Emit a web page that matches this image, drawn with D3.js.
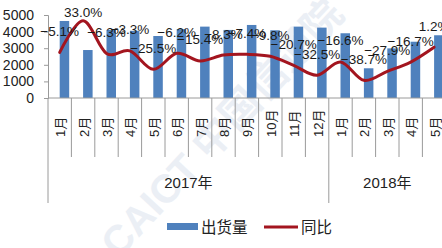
<!DOCTYPE html>
<html>
<head>
<meta charset="utf-8">
<script src="https://cdn.jsdelivr.net/npm/d3@7"></script>
<style>
  body { margin: 0; background: #fff; }
  svg { display: block; font-family: "Liberation Sans", Arial, "Noto Sans CJK SC", sans-serif; }
</style>
</head>
<body>
<div id="chart"></div>
<script>
// months and year groups
const months = ['1月','2月','3月','4月','5月','6月','7月','8月','9月','10月','11月','12月','1月','2月','3月','4月','5月'];
const years = [{name: '2017年', n: 12}, {name: '2018年', n: 5}];
// 出货量 (shipments) and 同比 (yoy %)
const shipments = [4640, 2890, 4100, 4050, 3735, 4150, 4300, 4100, 4400, 4080, 4300, 4240, 3900, 1790, 2990, 3390, 3780];
const yoy = [-5.1, 33.0, -6.3, -3.3, -25.5, -6.2, -15.4, -8.3, -7.4, -9.8, -20.7, -32.5, -16.6, -38.7, -27.9, -16.7, 1.2];
const yTicks = [0, 1000, 2000, 3000, 4000, 5000];

const w = 442, h = 248;
const plotLeft = 48, step = 23.4, plotTop = 15, base = 98;

var svg = d3.select('#chart').append('svg').attr('width', w).attr('height', h);

// faint watermark
svg.append('text')
   .attr('transform', 'translate(222,128) rotate(-47)')
   .attr('text-anchor', 'middle')
   .attr('dominant-baseline', 'central')
   .style('font-size', '40px')
   .style('font-weight', 'bold')
   .style('fill', '#dbe3ee')
   .style('opacity', 0.55)
   .text('CAICT 中国信通院');

var x = d3.scaleBand().domain(d3.range(months.length)).range([plotLeft, plotLeft + step * months.length]).padding(0);
var y = d3.scaleLinear().domain([0, 5000]).range([base, plotTop]);
var y2 = d3.scaleLinear().domain([-60, 40]).range([base, plotTop]);
var cx = i => x(i) + x.bandwidth() / 2;

// left axis
var yAxis = d3.axisLeft(y).tickValues(yTicks).tickSize(4).tickPadding(10).tickFormat(d3.format('d'));
var ga = svg.append('g').attr('transform', `translate(${plotLeft},0)`).call(yAxis);
ga.select('.domain').attr('stroke', '#9a9a9a');
ga.selectAll('.tick line').attr('stroke', '#9a9a9a');
ga.selectAll('.tick text').style('font-size', '14px').style('fill', '#222').style('font-family', null);

// bars
svg.selectAll('rect.bar')
   .data(shipments)
   .enter()
   .append('rect')
   .attr('class', 'bar')
   .attr('x', (d, i) => cx(i))
   .attr('width', 9.5)
   .attr('y', d => y(d))
   .attr('height', d => y(0) - y(d))
   .style('fill', '#4f81bd');

// category axis
svg.append('line').attr('x1', plotLeft).attr('x2', w).attr('y1', base).attr('y2', base).attr('stroke', '#9a9a9a');
var bounds = d3.range(months.length + 1);
var yearEnds = [0];
years.reduce((a, yr) => { yearEnds.push(a + yr.n); return a + yr.n; }, 0);
svg.selectAll('line.sep')
   .data(bounds)
   .enter()
   .append('line')
   .attr('class', 'sep')
   .attr('x1', i => x(0) + i * x.step())
   .attr('x2', i => x(0) + i * x.step())
   .attr('y1', base)
   .attr('y2', i => yearEnds.includes(i) ? 203 : 157)
   .attr('stroke', '#9a9a9a');

svg.selectAll('text.month')
   .data(months)
   .enter()
   .append('text')
   .attr('class', 'month')
   .attr('transform', (d, i) => `translate(${cx(i) + 1},137) rotate(-90)`)
   .attr('dominant-baseline', 'central')
   .style('font-size', '13px')
   .style('fill', '#222')
   .text(d => d);

svg.selectAll('text.year')
   .data(years)
   .enter()
   .append('text')
   .attr('class', 'year')
   .attr('x', (d, i) => x(0) + (yearEnds[i] + d.n / 2) * x.step())
   .attr('y', 188)
   .attr('text-anchor', 'middle')
   .style('font-size', '15px')
   .style('fill', '#222')
   .text(d => d.name);

// yoy line
var line = d3.line().x((d, i) => cx(i)).y(d => y2(d)).curve(d3.curveCardinal.tension(0));
svg.append('path')
   .datum(yoy)
   .attr('d', line)
   .attr('fill', 'none')
   .attr('stroke', '#a3151f')
   .attr('stroke-width', 3)
   .attr('stroke-linecap', 'round');

// data labels
svg.selectAll('text.lab')
   .data(yoy)
   .enter()
   .append('text')
   .attr('class', 'lab')
   .attr('x', (d, i) => cx(i))
   .attr('y', d => Math.max(y2(d) - 21, 12))
   .attr('text-anchor', 'middle')
   .attr('dominant-baseline', 'central')
   .style('font-size', '13.5px')
   .style('fill', '#1a1a1a')
   .text(d => d3.format('.1f')(d) + '%');

// legend
var lg = svg.append('g');
lg.append('rect').attr('x', 167).attr('y', 223).attr('width', 31).attr('height', 7).style('fill', '#4f81bd');
lg.append('text').attr('x', 201).attr('y', 227).attr('dominant-baseline', 'central')
  .style('font-size', '15.5px').style('fill', '#222').text('出货量');
lg.append('line').attr('x1', 264).attr('x2', 298).attr('y1', 227).attr('y2', 227)
  .attr('stroke', '#a3151f').attr('stroke-width', 3);
lg.append('text').attr('x', 301).attr('y', 227).attr('dominant-baseline', 'central')
  .style('font-size', '15.5px').style('fill', '#222').text('同比');
</script>
</body>
</html>
